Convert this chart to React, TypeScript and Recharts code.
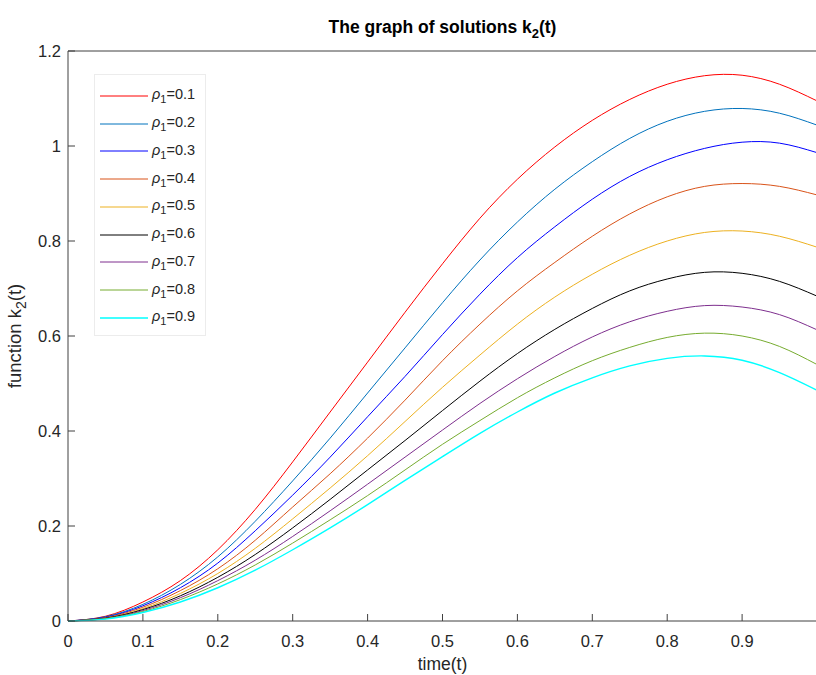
import { LineChart, Line, XAxis, YAxis, Legend } from 'recharts';

// time samples and axis ticks
const TIME = [0, 0.05, 0.1, 0.15, 0.2, 0.25, 0.3, 0.35, 0.4, 0.45, 0.5, 0.55, 0.6, 0.65, 0.7, 0.75, 0.8, 0.85, 0.9, 0.95, 1];
const X_TICKS = [0, 0.1, 0.2, 0.3, 0.4, 0.5, 0.6, 0.7, 0.8, 0.9];
const Y_TICKS = [0, 0.2, 0.4, 0.6, 0.8, 1, 1.2];

// k2(t), one array per rho1
const K2_RHO_01 = [0, 0.01, 0.04, 0.085, 0.15, 0.235, 0.335, 0.44, 0.545, 0.65, 0.752, 0.848, 0.93, 0.998, 1.054, 1.098, 1.13, 1.148, 1.149, 1.13, 1.095];
const K2_RHO_02 = [0, 0.009, 0.035, 0.077, 0.135, 0.21, 0.295, 0.385, 0.48, 0.575, 0.67, 0.76, 0.84, 0.909, 0.967, 1.016, 1.052, 1.073, 1.079, 1.069, 1.044];
const K2_RHO_03 = [0, 0.008, 0.032, 0.07, 0.122, 0.19, 0.265, 0.345, 0.43, 0.515, 0.603, 0.688, 0.765, 0.83, 0.888, 0.936, 0.971, 0.995, 1.008, 1.006, 0.986];
const K2_RHO_04 = [0, 0.007, 0.029, 0.064, 0.11, 0.17, 0.24, 0.31, 0.385, 0.465, 0.548, 0.625, 0.695, 0.755, 0.81, 0.857, 0.893, 0.915, 0.921, 0.915, 0.897];
const K2_RHO_05 = [0, 0.006, 0.026, 0.058, 0.1, 0.153, 0.215, 0.28, 0.348, 0.42, 0.492, 0.56, 0.625, 0.682, 0.73, 0.77, 0.8, 0.818, 0.821, 0.81, 0.787];
const K2_RHO_06 = [0, 0.006, 0.024, 0.053, 0.092, 0.14, 0.196, 0.256, 0.318, 0.38, 0.443, 0.505, 0.563, 0.614, 0.658, 0.695, 0.72, 0.734, 0.732, 0.715, 0.684];
const K2_RHO_07 = [0, 0.005, 0.022, 0.049, 0.085, 0.128, 0.178, 0.232, 0.288, 0.345, 0.402, 0.458, 0.51, 0.557, 0.598, 0.63, 0.652, 0.664, 0.661, 0.645, 0.613];
const K2_RHO_08 = [0, 0.005, 0.02, 0.045, 0.078, 0.118, 0.164, 0.213, 0.264, 0.318, 0.372, 0.422, 0.47, 0.512, 0.548, 0.576, 0.597, 0.606, 0.6, 0.578, 0.54];
const K2_RHO_09 = [0, 0.004, 0.018, 0.04, 0.07, 0.107, 0.15, 0.196, 0.245, 0.296, 0.346, 0.395, 0.44, 0.48, 0.512, 0.537, 0.553, 0.558, 0.549, 0.523, 0.486];

const SERIES = [
  { key: 'r1', rho: '0.1', color: '#FF0000', values: K2_RHO_01 },
  { key: 'r2', rho: '0.2', color: '#0072BD', values: K2_RHO_02 },
  { key: 'r3', rho: '0.3', color: '#0000FF', values: K2_RHO_03 },
  { key: 'r4', rho: '0.4', color: '#D95319', values: K2_RHO_04 },
  { key: 'r5', rho: '0.5', color: '#EDB120', values: K2_RHO_05 },
  { key: 'r6', rho: '0.6', color: '#000000', values: K2_RHO_06 },
  { key: 'r7', rho: '0.7', color: '#7E2F8E', values: K2_RHO_07 },
  { key: 'r8', rho: '0.8', color: '#77AC30', values: K2_RHO_08 },
  { key: 'r9', rho: '0.9', color: '#00FFFF', values: K2_RHO_09 },
];

const data = TIME.map((t, i) => {
  const row: Record<string, number> = { t };
  SERIES.forEach((s) => {
    row[s.key] = s.values[i];
  });
  return row;
});

const FONT = '"Liberation Sans", Arial, sans-serif';
const AXIS = '#404040';
const TEXT = '#262626';

function TitleLabel(props: any) {
  const vb = props.viewBox || { x: 0, width: 0 };
  return (
    <text x={vb.x + vb.width / 2} y={33} textAnchor="middle" fontFamily={FONT} fontSize={17.5} fontWeight="bold" fill="#000">
      <tspan>The graph of solutions k</tspan>
      <tspan dy={5} fontSize={13}>2</tspan>
      <tspan dy={-5}>(t)</tspan>
    </text>
  );
}

function XTitle(props: any) {
  const vb = props.viewBox || { x: 0, width: 0 };
  return (
    <text x={vb.x + vb.width / 2} y={670} textAnchor="middle" fontFamily={FONT} fontSize={17.5} fill={TEXT}>
      time(t)
    </text>
  );
}

function YTitle(props: any) {
  const vb = props.viewBox || { y: 0, height: 0 };
  const cy = vb.y + vb.height / 2;
  return (
    <text x={21} y={cy} transform={`rotate(-90 21 ${cy})`} textAnchor="middle" fontFamily={FONT} fontSize={18.5} fill={TEXT}>
      <tspan>function k</tspan>
      <tspan dy={5} fontSize={14}>2</tspan>
      <tspan dy={-5}>(t)</tspan>
    </text>
  );
}

function RhoLegend({ payload }: any) {
  return (
    <div
      style={{
        background: '#fff',
        border: '1px solid #ececec',
        padding: '7px 0 0 5px',
        boxSizing: 'border-box',
        width: 112,
        height: 262,
        fontFamily: FONT,
        fontSize: 14.5,
        color: TEXT,
      }}
    >
      {(payload || []).map((p: any) => (
        <div key={p.value} style={{ display: 'flex', alignItems: 'center', height: 27.75 }}>
          <svg width={48} height={4} style={{ marginRight: 4 }}>
            <line x1={0} y1={2} x2={48} y2={2} stroke={p.color} strokeWidth={p.color === '#00FFFF' ? 1.4 : 1} />
          </svg>
          <span>
            <i>ρ</i>
            <sub style={{ fontSize: 11, verticalAlign: '-4px' }}>1</sub>={p.value}
          </span>
        </div>
      ))}
    </div>
  );
}

export default function App() {
  return (
    <div style={{ position: 'absolute', left: 0, top: 0, width: 816, height: 675, overflow: 'hidden', background: '#fff' }}>
      <LineChart width={830} height={675} data={data} margin={{ top: 50, right: 12, left: 0, bottom: 24 }}>
        <XAxis
          dataKey="t"
          type="number"
          domain={[0, 1]}
          ticks={X_TICKS}
          tickSize={-7}
          tickMargin={21}
          height={30}
          stroke={AXIS}
          tick={{ fill: TEXT, fontSize: 16.5, fontFamily: FONT }}
          label={XTitle}
        />
        <XAxis
          xAxisId="top"
          orientation="top"
          dataKey="t"
          type="number"
          domain={[0, 1]}
          ticks={X_TICKS}
          tickSize={-7}
          tick={false}
          height={1}
          stroke={AXIS}
          label={TitleLabel}
        />
        <YAxis
          type="number"
          domain={[0, 1.2]}
          ticks={Y_TICKS}
          tickSize={-7}
          tickMargin={14}
          width={68}
          stroke={AXIS}
          tick={{ fill: TEXT, fontSize: 16.5, fontFamily: FONT }}
          label={YTitle}
        />
        <YAxis
          yAxisId="right"
          orientation="right"
          type="number"
          domain={[0, 1.2]}
          ticks={Y_TICKS}
          tickSize={-7}
          tick={false}
          width={1}
          stroke={AXIS}
        />
        <Legend
          verticalAlign="middle"
          align="center"
          content={RhoLegend}
          wrapperStyle={{ left: 94, top: 74, width: 112, height: 262 }}
        />
        {SERIES.map((s) => (
          <Line
            key={s.key}
            dataKey={s.key}
            name={s.rho}
            type="natural"
            stroke={s.color}
            strokeWidth={s.color === '#00FFFF' ? 1.4 : 1}
            dot={false}
            activeDot={false}
            isAnimationActive={false}
          />
        ))}
      </LineChart>
    </div>
  );
}
